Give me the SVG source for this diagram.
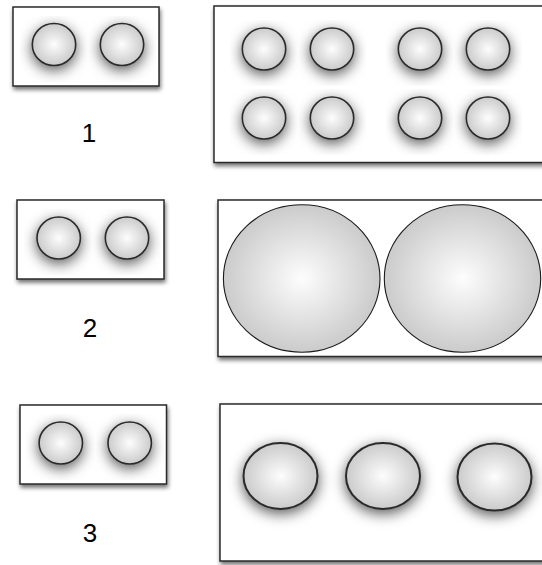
<svg xmlns="http://www.w3.org/2000/svg" width="542" height="565" viewBox="0 0 542 565">
<style>
.box{fill:#fff;stroke:#2a2a2a;stroke-width:1.5;filter:url(#boxShadow)}
.ball{fill:url(#ballGrad);stroke:#2a2a2a;stroke-width:1.6;filter:url(#ballShadow)}
.big{fill:url(#ballGrad);stroke:#1a1a1a;stroke-width:1.1}
.lbl{font-family:"Liberation Sans",Arial,sans-serif;font-size:26px;fill:#000;text-anchor:middle}
</style>
<defs>
<radialGradient id="ballGrad" cx="50%" cy="50%" r="55%">
<stop offset="0" stop-color="#fdfdfd"/>
<stop offset="1" stop-color="#c6c6c6"/>
</radialGradient>
<filter id="boxShadow" x="-5%" y="-5%" width="112%" height="125%">
<feGaussianBlur in="SourceAlpha" stdDeviation="2"/>
<feOffset dx="1" dy="3" result="b"/>
<feFlood flood-color="#000" flood-opacity="0.55"/>
<feComposite in2="b" operator="in" result="s"/>
<feMerge><feMergeNode in="s"/><feMergeNode in="SourceGraphic"/></feMerge>
</filter>
<filter id="ballShadow" x="-0.28" y="-0.27" width="1.56" height="1.64">
<feGaussianBlur in="SourceAlpha" stdDeviation="7"/>
<feOffset dx="0" dy="4" result="b"/>
<feFlood flood-color="#000" flood-opacity="0.65"/>
<feComposite in2="b" operator="in" result="s"/>
<feMerge><feMergeNode in="s"/><feMergeNode in="SourceGraphic"/></feMerge>
</filter>
</defs>

<g id="small1">
<rect class="box" x="13" y="7" width="146" height="79"/>
<ellipse class="ball" cx="54" cy="44.5" rx="21.7" ry="21"/>
<ellipse class="ball" cx="122" cy="44.5" rx="21.7" ry="21"/>
</g>
<g id="label1"><text class="lbl" x="89" y="142">1</text></g>

<g id="big1">
<rect class="box" x="214" y="6" width="332" height="156.5"/>
<ellipse class="ball" cx="264" cy="49" rx="21.7" ry="21"/>
<ellipse class="ball" cx="332" cy="49" rx="21.7" ry="21"/>
<ellipse class="ball" cx="420" cy="49" rx="21.7" ry="21"/>
<ellipse class="ball" cx="488" cy="49" rx="21.7" ry="21"/>
<ellipse class="ball" cx="264" cy="118" rx="21.7" ry="21"/>
<ellipse class="ball" cx="332" cy="118" rx="21.7" ry="21"/>
<ellipse class="ball" cx="420" cy="118" rx="21.7" ry="21"/>
<ellipse class="ball" cx="488" cy="118" rx="21.7" ry="21"/>
</g>

<g id="small2">
<rect class="box" x="17" y="200" width="147" height="79"/>
<ellipse class="ball" cx="58.7" cy="238" rx="21.7" ry="21"/>
<ellipse class="ball" cx="127" cy="238" rx="21.7" ry="21"/>
</g>
<g id="label2"><text class="lbl" x="90" y="337">2</text></g>

<g id="big2">
<rect class="box" x="218" y="200" width="328" height="156.5"/>
<ellipse class="big" cx="301.7" cy="278.5" rx="78.3" ry="73.7"/>
<ellipse class="big" cx="462.5" cy="278.5" rx="78.2" ry="73.7"/>
</g>

<g id="small3">
<rect class="box" x="20" y="405" width="146.5" height="79"/>
<ellipse class="ball" cx="60.8" cy="443" rx="21.7" ry="21"/>
<ellipse class="ball" cx="129.7" cy="443" rx="21.7" ry="21"/>
</g>
<g id="label3"><text class="lbl" x="90" y="542">3</text></g>

<g id="big3">
<rect class="box" x="220" y="404" width="326" height="157"/>
<ellipse class="ball" cx="280.5" cy="476" rx="37" ry="33" style="stroke-width:2"/>
<ellipse class="ball" cx="383" cy="476" rx="37" ry="33" style="stroke-width:2"/>
<ellipse class="ball" cx="494.5" cy="477" rx="37" ry="33.5" style="stroke-width:2"/>
</g>
</svg>
